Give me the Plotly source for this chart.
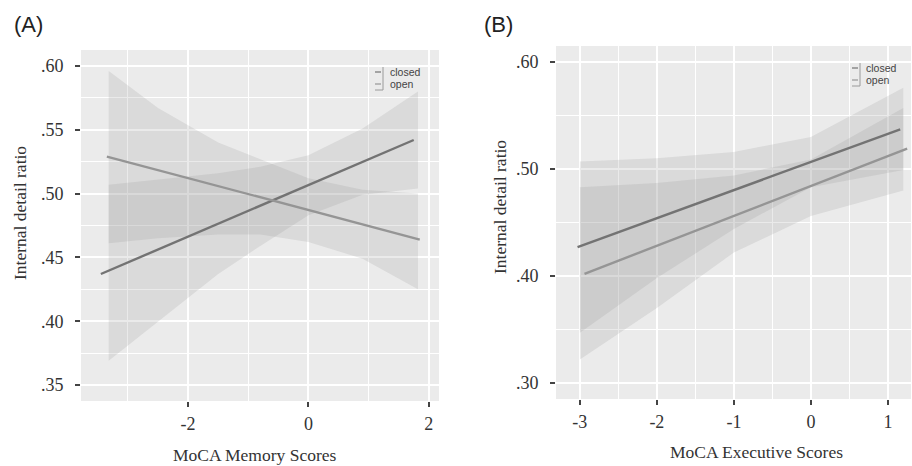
import plotly.graph_objects as go

# ---------------- Data ----------------
# Panel A: MoCA Memory Scores
a_closed_x = [-3.45, 1.75]
a_closed_y = [0.437, 0.542]
a_open_x = [-3.35, 1.85]
a_open_y = [0.529, 0.464]

a_band_x = [-3.32, -2.5, -1.5, -0.8, 0.0, 0.9, 1.82]
a_closed_upper = [0.507, 0.511, 0.516, 0.521, 0.530, 0.551, 0.580]
a_closed_lower = [0.369, 0.400, 0.437, 0.459, 0.483, 0.499, 0.504]
a_open_upper = [0.596, 0.567, 0.540, 0.527, 0.512, 0.503, 0.500]
a_open_lower = [0.461, 0.465, 0.468, 0.468, 0.462, 0.449, 0.425]

# Panel B: MoCA Executive Scores
b_closed_x = [-3.03, 1.16]
b_closed_y = [0.427, 0.537]
b_open_x = [-2.94, 1.25]
b_open_y = [0.402, 0.519]

b_band_x = [-3.0, -2.0, -1.0, 0.0, 1.2]
b_closed_upper = [0.507, 0.510, 0.516, 0.530, 0.576]
b_closed_lower = [0.347, 0.398, 0.444, 0.483, 0.499]
b_open_upper = [0.483, 0.487, 0.494, 0.509, 0.557]
b_open_lower = [0.322, 0.370, 0.422, 0.456, 0.480]

# Ticks
a_xtick_vals = [-2, 0, 2]
a_xtick_text = ["-2", "0", "2"]
a_xminor_vals = [-3, -1, 1]
a_ytick_vals = [0.35, 0.40, 0.45, 0.50, 0.55, 0.60]
a_ytick_text = [".35", ".40", ".45", ".50", ".55", ".60"]
a_yminor_vals = [0.375, 0.425, 0.475, 0.525, 0.575]

b_xtick_vals = [-3, -2, -1, 0, 1]
b_xtick_text = ["-3", "-2", "-1", "0", "1"]
b_xminor_vals = [-2.5, -1.5, -0.5, 0.5]
b_ytick_vals = [0.30, 0.40, 0.50, 0.60]
b_ytick_text = [".30", ".40", ".50", ".60"]
b_yminor_vals = [0.35, 0.45, 0.55]

series_names = ["closed", "open"]

# ---------------- Styling ----------------
BG = "#ebebeb"
BAND = "rgba(150,150,150,0.20)"
CLOSED_COLOR = "#737373"
OPEN_COLOR = "#959595"
SERIF = "Liberation Serif, Times New Roman, serif"
SANS = "Liberation Sans, Arial, sans-serif"

fig = go.Figure()


def add_band(xs, up, lo, xa, ya):
    fig.add_trace(go.Scatter(
        x=list(xs) + list(xs)[::-1], y=list(up) + list(lo)[::-1],
        fill="toself", fillcolor=BAND, line=dict(width=0),
        mode="lines", hoverinfo="skip", showlegend=False,
        xaxis=xa, yaxis=ya))


def add_line(xs, ys, color, name, xa, ya):
    fig.add_trace(go.Scatter(
        x=xs, y=ys, mode="lines", name=name,
        line=dict(color=color, width=2.4),
        showlegend=False, xaxis=xa, yaxis=ya))


add_band(a_band_x, a_closed_upper, a_closed_lower, "x", "y")
add_band(a_band_x, a_open_upper, a_open_lower, "x", "y")
add_line(a_closed_x, a_closed_y, CLOSED_COLOR, series_names[0], "x", "y")
add_line(a_open_x, a_open_y, OPEN_COLOR, series_names[1], "x", "y")

add_band(b_band_x, b_closed_upper, b_closed_lower, "x2", "y2")
add_band(b_band_x, b_open_upper, b_open_lower, "x2", "y2")
add_line(b_closed_x, b_closed_y, CLOSED_COLOR, series_names[0], "x2", "y2")
add_line(b_open_x, b_open_y, OPEN_COLOR, series_names[1], "x2", "y2")

W, H = 912, 466


def px_x(p):
    return p / W


def px_y(p):
    return 1 - p / H


tickfont = dict(family=SERIF, size=18, color="#333333")


def axis_common():
    return dict(
        showline=False, zeroline=False, ticks="outside", ticklen=5,
        tickwidth=2, tickcolor="#444444", tickfont=tickfont,
        showgrid=True, gridcolor="white", gridwidth=2.2,
    )


fig.update_layout(
    width=W, height=H,
    margin=dict(l=0, r=0, t=0, b=0),
    paper_bgcolor="white",
    plot_bgcolor=BG,
    showlegend=False,
    xaxis=dict(domain=[px_x(81), px_x(439)], range=[-3.78, 2.17],
               tickmode="array", tickvals=a_xtick_vals, ticktext=a_xtick_text,
               minor=dict(tickvals=a_xminor_vals, showgrid=True,
                          gridcolor="white", gridwidth=1.2, ticks=""),
               anchor="y", ticklabelstandoff=1, **axis_common()),
    yaxis=dict(domain=[px_y(401), px_y(50)], range=[0.3375, 0.6125],
               tickmode="array", tickvals=a_ytick_vals, ticktext=a_ytick_text,
               minor=dict(tickvals=a_yminor_vals, showgrid=True,
                          gridcolor="white", gridwidth=1.2, ticks=""),
               anchor="x", ticklabelstandoff=8, **axis_common()),
    xaxis2=dict(domain=[px_x(556), px_x(911)], range=[-3.31, 1.30],
                tickmode="array", tickvals=b_xtick_vals, ticktext=b_xtick_text,
                minor=dict(tickvals=b_xminor_vals, showgrid=True,
                           gridcolor="white", gridwidth=1.2, ticks=""),
                anchor="y2", ticklabelstandoff=1, **axis_common()),
    yaxis2=dict(domain=[px_y(399), px_y(46)], range=[0.285, 0.615],
                tickmode="array", tickvals=b_ytick_vals, ticktext=b_ytick_text,
                minor=dict(tickvals=b_yminor_vals, showgrid=True,
                           gridcolor="white", gridwidth=1.2, ticks=""),
                anchor="x2", ticklabelstandoff=8, **axis_common()),
)

titlefont = dict(family=SERIF, size=17.5, color="#333333")
annotations = [
    dict(text="(A)", x=px_x(12), y=px_y(25), xanchor="left", yanchor="middle",
         font=dict(family=SANS, size=22, color="#222222")),
    dict(text="(B)", x=px_x(482), y=px_y(25), xanchor="left", yanchor="middle",
         font=dict(family=SANS, size=22, color="#222222")),
    dict(text="MoCA Memory Scores", x=px_x(255), y=px_y(455), xanchor="center",
         yanchor="middle", font=titlefont),
    dict(text="Internal detail ratio", x=px_x(20), y=px_y(213), xanchor="center",
         yanchor="middle", textangle=-90, font=titlefont),
    dict(text="MoCA Executive Scores", x=px_x(756), y=px_y(452), xanchor="center",
         yanchor="middle", font=titlefont),
    dict(text="Internal detail ratio", x=px_x(500), y=px_y(207), xanchor="center",
         yanchor="middle", textangle=-90, font=titlefont),
]

# custom compact legends (key + label), as in the reference
legend_specs = [
    # (symbol x left, text x, y closed, y open)
    (375, 388, 72, 84),
    (852, 864, 68, 80),
]
shapes = []
for sx, tx, yc, yo in legend_specs:
    for name, yy, col in [(series_names[0], yc, CLOSED_COLOR), (series_names[1], yo, OPEN_COLOR)]:
        annotations.append(dict(text=name, x=px_x(tx), y=px_y(yy), xanchor="left",
                                yanchor="middle", showarrow=False,
                                font=dict(family=SANS, size=10.5, color="#444444")))
        shapes.append(dict(type="line", xref="paper", yref="paper",
                           x0=px_x(sx), x1=px_x(sx + 6), y0=px_y(yy), y1=px_y(yy),
                           line=dict(color=col, width=1.2)))
    # bracket-like shadow on the right of the keys
    shapes.append(dict(type="line", xref="paper", yref="paper",
                       x0=px_x(sx + 8), x1=px_x(sx + 8), y0=px_y(yc - 5), y1=px_y(yo + 6),
                       line=dict(color="#9a9a9a", width=1)))
    shapes.append(dict(type="line", xref="paper", yref="paper",
                       x0=px_x(sx), x1=px_x(sx + 8), y0=px_y(yo + 6), y1=px_y(yo + 6),
                       line=dict(color="#9a9a9a", width=1)))

for a in annotations:
    a.setdefault("showarrow", False)
    a["xref"] = "paper"
    a["yref"] = "paper"

fig.update_layout(annotations=annotations, shapes=shapes)

fig.write_html("out.html",
               config={"displayModeBar": False},
               post_script="document.body.style.margin='0px';"
                           "document.body.style.overflow='hidden';")
